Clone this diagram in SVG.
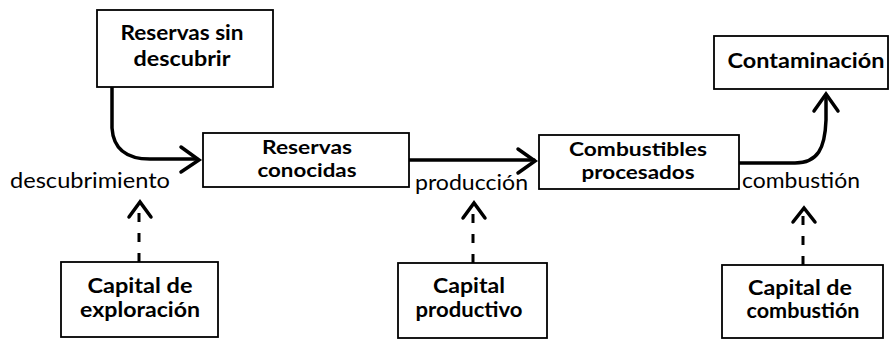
<svg xmlns="http://www.w3.org/2000/svg" width="891" height="340" viewBox="0 0 891 340">
<style>
.box{fill:#fff;stroke:#000;stroke-width:1.8}
.t{font-family:Lato,"Open Sans",sans-serif;font-weight:bold;font-size:21px;text-anchor:middle;fill:#000}
.s{font-size:19.5px}
.l{font-family:Lato,"Open Sans",sans-serif;font-size:21px;fill:#000}
.main{fill:none;stroke:#000;stroke-width:3.5;stroke-linecap:round;stroke-linejoin:round}
.dash{fill:none;stroke:#000;stroke-width:3;stroke-dasharray:9 11}
.head{fill:none;stroke:#000;stroke-width:3.5;stroke-linecap:round;stroke-linejoin:miter}
</style>
<rect width="891" height="340" fill="#fff"/>
<g id="connectors">
<path class="main" d="M112,87 V128 Q114,159 150,159 H197"/>
<polyline class="head" points="181,147 199,160 181,172"/>
<path class="main" d="M409,160 H534"/>
<polyline class="head" points="518,149 535,161 518,173"/>
<path class="main" d="M739,163 H795 C818,163 825,148 826,120 V96"/>
<polyline class="head" points="814,111 826,94 838,111"/>
<path class="dash" d="M139,262 V208"/>
<polyline class="head" points="129,217 140,202 151,217"/>
<path class="dash" d="M473,263 V208"/>
<polyline class="head" points="463,218 474,203 485,218"/>
<path class="dash" d="M803,265 V213"/>
<polyline class="head" points="793,222 804,208 815,222"/>
</g>
<g id="n1"><rect class="box" x="97" y="10" width="176" height="77"/><text class="t" x="182" y="40" textLength="123" lengthAdjust="spacingAndGlyphs">Reservas sin</text><text class="t" x="182" y="66" textLength="97" lengthAdjust="spacingAndGlyphs">descubrir</text></g>
<g id="n2"><rect class="box" x="203" y="133" width="206" height="54"/><text class="t s" x="307" y="154" textLength="90" lengthAdjust="spacingAndGlyphs">Reservas</text><text class="t s" x="307" y="177" textLength="99" lengthAdjust="spacingAndGlyphs">conocidas</text></g>
<g id="n3"><rect class="box" x="539" y="135" width="200" height="54"/><text class="t s" x="638" y="156" textLength="138" lengthAdjust="spacingAndGlyphs">Combustibles</text><text class="t s" x="638" y="179" textLength="113" lengthAdjust="spacingAndGlyphs">procesados</text></g>
<g id="n4"><rect class="box" x="714" y="36" width="174" height="53"/><text class="t" x="806" y="68" textLength="157" lengthAdjust="spacingAndGlyphs">Contaminación</text></g>
<g id="n5"><rect class="box" x="61" y="262" width="157" height="75"/><text class="t" x="140" y="293" textLength="105" lengthAdjust="spacingAndGlyphs">Capital de</text><text class="t" x="140" y="317" textLength="120" lengthAdjust="spacingAndGlyphs">exploración</text></g>
<g id="n6"><rect class="box" x="398" y="263" width="149" height="75"/><text class="t" x="469" y="293" textLength="72" lengthAdjust="spacingAndGlyphs">Capital</text><text class="t" x="469" y="317" textLength="107" lengthAdjust="spacingAndGlyphs">productivo</text></g>
<g id="n7"><rect class="box" x="722" y="265" width="161" height="73"/><text class="t" x="800" y="295" textLength="104" lengthAdjust="spacingAndGlyphs">Capital de</text><text class="t" x="803" y="318" textLength="113" lengthAdjust="spacingAndGlyphs">combustión</text></g>
<g id="labels">
<text class="l" x="10" y="188" textLength="160" lengthAdjust="spacingAndGlyphs">descubrimiento</text>
<text class="l" x="415" y="190" textLength="113" lengthAdjust="spacingAndGlyphs">producción</text>
<text class="l" x="742" y="188" textLength="118" lengthAdjust="spacingAndGlyphs">combustión</text>
</g>
</svg>
